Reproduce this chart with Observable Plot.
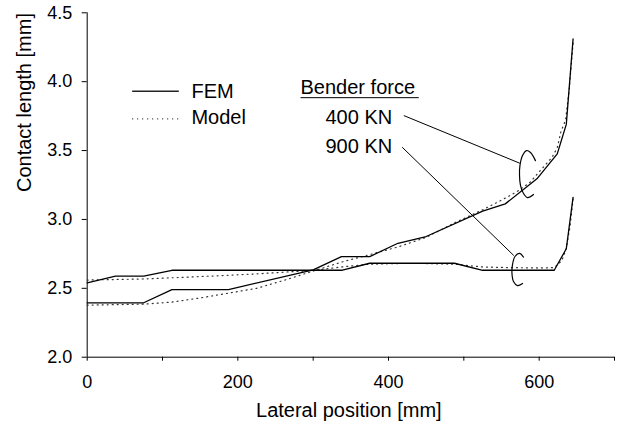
<!DOCTYPE html>
<html>
<head>
<meta charset="utf-8">
<script src="https://cdn.jsdelivr.net/npm/d3@7"></script>
<script src="https://cdn.jsdelivr.net/npm/@observablehq/plot@0.6"></script>
<style>
  body { margin: 0; background: #fff; }
</style>
</head>
<body>
<div id="chart"></div>
<script>
// Contact length across the strip width: FEM results vs. analytical model,
// for two bender forces.

// FEM, bender force 400 KN
const fem400X = [0, 75, 112.5, 187.5, 300, 337.5, 375, 412.5, 450, 525, 555, 597, 624, 636, 645];
const fem400Y = [2.395, 2.395, 2.491, 2.491, 2.634, 2.73, 2.73, 2.827, 2.876, 3.06, 3.113, 3.295, 3.476, 3.69, 4.31];

// FEM, bender force 900 KN
const fem900X = [0, 37.5, 75, 112.5, 337.5, 375, 487.5, 525, 620, 636, 645];
const fem900Y = [2.54, 2.588, 2.588, 2.631, 2.631, 2.682, 2.682, 2.631, 2.631, 2.787, 3.16];

// Model, bender force 400 KN
const model400X = [0, 75, 112.5, 150, 187.5, 225, 262.5, 300, 337.5, 375, 412.5, 450, 487.5, 525, 550, 570, 588, 604, 617, 624, 629, 635, 640, 645];
const model400Y = [2.378, 2.385, 2.40, 2.43, 2.465, 2.50, 2.56, 2.625, 2.69, 2.745, 2.80, 2.87, 2.975, 3.07, 3.14, 3.20, 3.27, 3.37, 3.45, 3.52, 3.64, 3.72, 3.95, 4.28];

// Model, bender force 900 KN
const model900X = [0, 75, 150, 225, 300, 337.5, 375, 412.5, 450, 487.5, 525, 562.5, 600, 620, 630, 636, 641, 645];
const model900Y = [2.56, 2.568, 2.585, 2.605, 2.63, 2.655, 2.675, 2.68, 2.68, 2.675, 2.655, 2.65, 2.648, 2.65, 2.70, 2.79, 2.95, 3.15];

// Axis ticks
const xTicks = [0, 100, 200, 300, 400, 500, 600, 700];
const yTicks = [2.0, 2.5, 3.0, 3.5, 4.0, 4.5];

// Leader lines from the force labels to the curve brackets
const leaderX1 = [420.3, 418.2];
const leaderY1 = [3.754, 3.524];
const leaderX2 = [574.3, 566.3];
const leaderY2 = [3.408, 2.738];

// Bracket outlines around each pair of curves
const bracket400X = [595.1, 588.5, 583.2, 577.9, 574.5, 573.9, 575.2, 579.2, 584.5, 592.5];
const bracket400Y = [3.427, 3.486, 3.50, 3.464, 3.392, 3.320, 3.247, 3.188, 3.159, 3.181];
const bracket900X = [579.2, 573.9, 567.9, 564.6, 563.9, 565.9, 571.2, 577.9];
const bracket900Y = [2.727, 2.753, 2.731, 2.673, 2.607, 2.549, 2.520, 2.535];

const FONT = "'Liberation Sans', Arial, Helvetica, sans-serif";

const pts = (xs, ys) => xs.map((x, i) => ({x, y: ys[i]}));
const leaders = leaderX1.map((x1, i) => ({x1, y1: leaderY1[i], x2: leaderX2[i], y2: leaderY2[i]}));

const solid = {x: "x", y: "y", stroke: "#000", strokeWidth: 1.3};
const dotted = {x: "x", y: "y", stroke: "#333", strokeWidth: 1.2, strokeDasharray: "1,4"};
const label = {x: "x", y: "y", text: "t", textAnchor: "start", fontSize: 20, fontWeight: "normal", fill: "#000"};

const plot = Plot.plot({
  width: 625,
  height: 434,
  marginLeft: 86.7,
  marginRight: 11,
  marginTop: 12.3,
  marginBottom: 77.3,
  style: {fontFamily: FONT, fontSize: "18px", color: "#000", background: "#fff", overflow: "visible"},
  x: {
    domain: [0, 700],
    ticks: xTicks,
    tickFormat: d => (d % 200 === 0 ? String(d) : ""),
    tickSize: 4,
    tickPadding: 14,
    label: null
  },
  y: {
    domain: [2, 4.5],
    ticks: yTicks,
    tickFormat: d => d.toFixed(1),
    tickSize: 5,
    tickPadding: 10,
    label: null
  },
  marks: [
    Plot.ruleY([2], {stroke: "#000", strokeWidth: 1}),
    Plot.ruleX([0], {y1: 2, y2: 4.5, stroke: "#000", strokeWidth: 1}),

    Plot.line(pts(model400X, model400Y), dotted),
    Plot.line(pts(model900X, model900Y), dotted),
    Plot.line(pts(fem400X, fem400Y), solid),
    Plot.line(pts(fem900X, fem900Y), solid),

    Plot.link(leaders, {x1: "x1", y1: "y1", x2: "x2", y2: "y2", stroke: "#000", strokeWidth: 1}),
    Plot.line(pts(bracket400X, bracket400Y), {x: "x", y: "y", curve: "catmull-rom", stroke: "#000", strokeWidth: 1.2}),
    Plot.line(pts(bracket900X, bracket900Y), {x: "x", y: "y", curve: "catmull-rom", stroke: "#000", strokeWidth: 1.2}),

    // line-style legend
    Plot.link([{x1: 59.7, x2: 121.6, y: 3.930}], {x1: "x1", x2: "x2", y1: "y", y2: "y", stroke: "#222", strokeWidth: 1.5}),
    Plot.link([{x1: 59.7, x2: 121.6, y: 3.730}], {x1: "x1", x2: "x2", y1: "y", y2: "y", stroke: "#333", strokeWidth: 1.2, strokeDasharray: "1,4"}),
    Plot.text([{x: 138.4, y: 3.927, t: "FEM"}, {x: 138.4, y: 3.738, t: "Model"}], label),

    // force labels
    Plot.text([{x: 283.2, y: 3.955, t: "Bender force"}], label),
    Plot.link([{x1: 283.2, x2: 440.2, y: 3.884}], {x1: "x1", x2: "x2", y1: "y", y2: "y", stroke: "#000", strokeWidth: 1}),
    Plot.text([{x: 316.3, y: 3.736, t: "400 KN"}, {x: 316.3, y: 3.530, t: "900 KN"}], label),

    // axis titles
    Plot.text(["Lateral position [mm]"], {frameAnchor: "bottom", dy: 60, dx: -2, fontSize: 20, fontWeight: "normal", fill: "#000"}),
    Plot.text(["Contact length [mm]"], {frameAnchor: "left", rotate: -90, dx: -62.7, dy: 7, fontSize: 20, fontWeight: "normal", fill: "#000"})
  ]
});

document.getElementById("chart").appendChild(plot);
</script>
</body>
</html>
